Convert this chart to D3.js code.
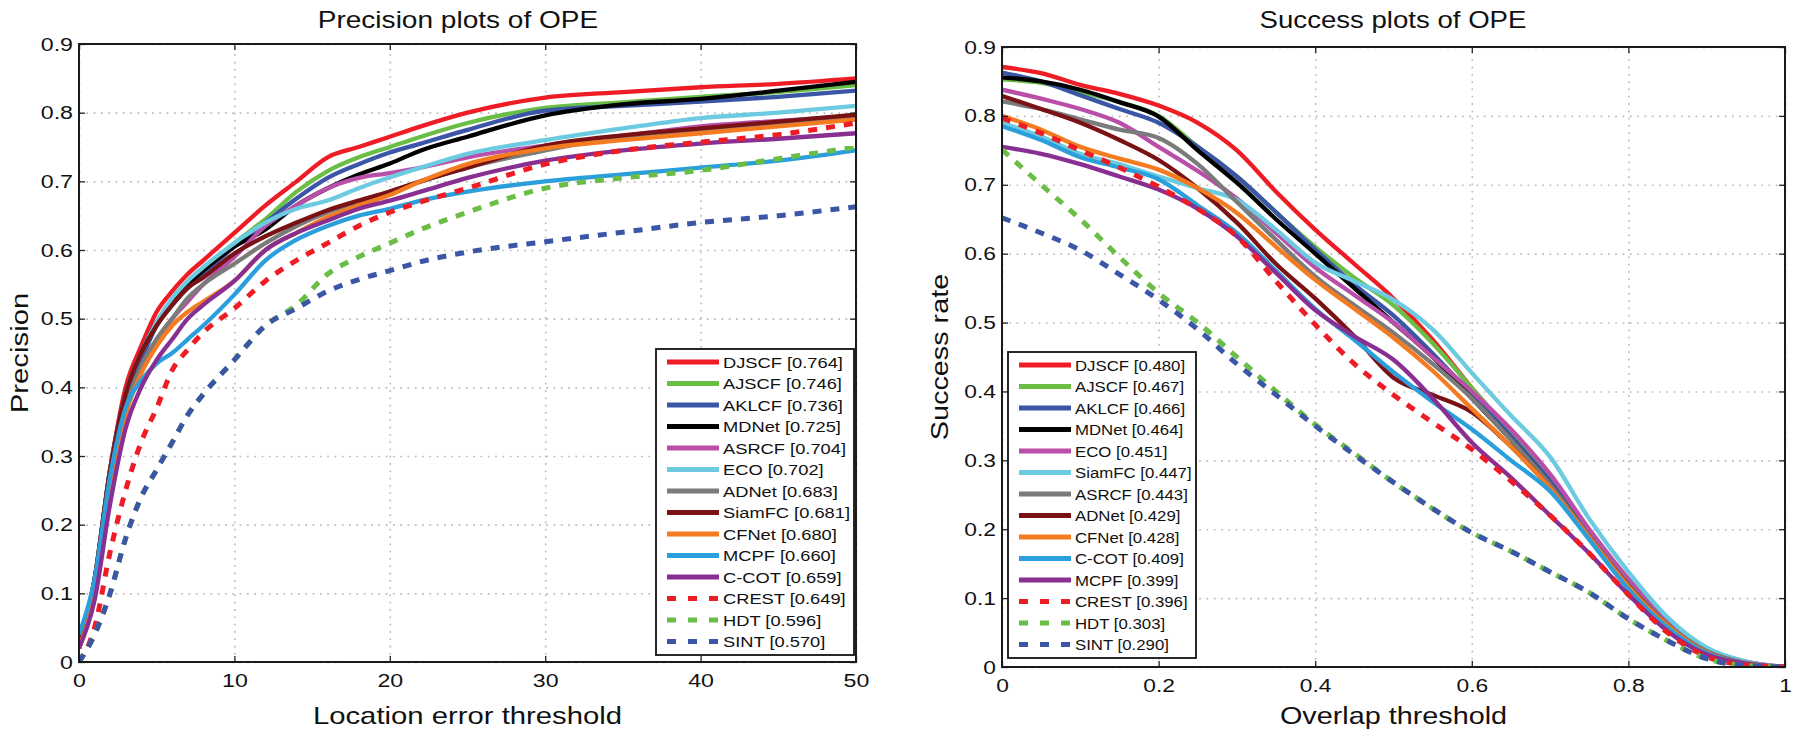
<!DOCTYPE html>
<html><head><meta charset="utf-8">
<script src="https://cdn.jsdelivr.net/npm/d3@7/dist/d3.min.js"></script>
<style>
body{margin:0;background:#fff;}
svg{display:block;}
text{font-family:"Liberation Sans",Arial,Helvetica,sans-serif;fill:#111;}
</style>
</head><body>
<svg id="chart" width="1794" height="735"></svg>
<script>
// ---------------- DATA ----------------
const precTitle = "Precision plots of OPE";
const succTitle = "Success plots of OPE";
const precXLabel = "Location error threshold";
const precYLabel = "Precision";
const succXLabel = "Overlap threshold";
const succYLabel = "Success rate";

const precThresholds = [0,1,2,3,4,5,6,7,8,10,12,14,16,18,20,22,25,30,35,40,45,50];
const precLegend = ["DJSCF [0.764]","AJSCF [0.746]","AKLCF [0.736]","MDNet [0.725]","ASRCF [0.704]","ECO [0.702]","ADNet [0.683]","SiamFC [0.681]","CFNet [0.680]","MCPF [0.660]","C-COT [0.659]","CREST [0.649]","HDT [0.596]","SINT [0.570]"];
const precDJSCF  = [0.03,0.12,0.28,0.40,0.46,0.51,0.54,0.565,0.585,0.625,0.665,0.70,0.735,0.75,0.765,0.78,0.80,0.822,0.83,0.837,0.842,0.85];
const precAJSCF  = [0.02,0.11,0.27,0.38,0.44,0.49,0.52,0.55,0.57,0.61,0.645,0.685,0.715,0.735,0.75,0.765,0.785,0.807,0.815,0.823,0.83,0.84];
const precAKLCF  = [0.02,0.11,0.27,0.38,0.44,0.49,0.52,0.545,0.565,0.605,0.64,0.675,0.705,0.725,0.742,0.755,0.775,0.803,0.81,0.816,0.823,0.832];
const precMDNet  = [0.02,0.12,0.28,0.39,0.45,0.495,0.525,0.55,0.57,0.605,0.63,0.665,0.69,0.71,0.726,0.745,0.765,0.796,0.812,0.82,0.832,0.845];
const precASRCF  = [0.02,0.10,0.25,0.36,0.43,0.47,0.50,0.525,0.55,0.59,0.635,0.665,0.69,0.705,0.712,0.72,0.735,0.752,0.766,0.78,0.788,0.795];
const precECO    = [0.03,0.12,0.28,0.39,0.45,0.495,0.53,0.555,0.575,0.61,0.64,0.66,0.672,0.69,0.706,0.72,0.74,0.76,0.777,0.792,0.80,0.81];
const precADNet  = [0.02,0.11,0.26,0.37,0.43,0.47,0.50,0.53,0.55,0.58,0.61,0.635,0.655,0.67,0.685,0.70,0.72,0.745,0.765,0.775,0.785,0.79];
const precSiamFC = [0.02,0.12,0.28,0.39,0.45,0.49,0.52,0.545,0.56,0.595,0.62,0.64,0.658,0.672,0.685,0.70,0.72,0.752,0.767,0.777,0.787,0.797];
const precCFNet  = [0.02,0.10,0.25,0.36,0.42,0.46,0.49,0.51,0.525,0.555,0.60,0.625,0.648,0.665,0.68,0.70,0.725,0.748,0.76,0.77,0.78,0.79];
const precMCPF   = [0.04,0.12,0.27,0.37,0.41,0.435,0.45,0.47,0.49,0.535,0.585,0.615,0.635,0.65,0.66,0.672,0.685,0.70,0.71,0.72,0.73,0.745];
const precCCOT   = [0.02,0.09,0.23,0.34,0.40,0.44,0.47,0.50,0.52,0.555,0.60,0.625,0.643,0.66,0.672,0.685,0.705,0.73,0.745,0.755,0.762,0.77];
const precCREST  = [0.0,0.05,0.16,0.25,0.32,0.37,0.425,0.455,0.48,0.515,0.555,0.585,0.61,0.635,0.655,0.67,0.69,0.725,0.745,0.757,0.768,0.785];
const precHDT    = [0.0,0.04,0.10,0.18,0.24,0.28,0.32,0.36,0.39,0.44,0.49,0.52,0.565,0.59,0.61,0.63,0.655,0.69,0.705,0.716,0.733,0.75];
const precSINT   = [0.0,0.04,0.10,0.18,0.24,0.28,0.32,0.36,0.39,0.44,0.49,0.515,0.54,0.557,0.57,0.583,0.597,0.612,0.626,0.64,0.65,0.663];

const succThresholds = [0,0.05,0.1,0.15,0.2,0.25,0.3,0.35,0.4,0.45,0.5,0.55,0.6,0.65,0.7,0.75,0.8,0.85,0.9,0.95,1.0];
const succLegend = ["DJSCF [0.480]","AJSCF [0.467]","AKLCF [0.466]","MDNet [0.464]","ECO [0.451]","SiamFC [0.447]","ASRCF [0.443]","ADNet [0.429]","CFNet [0.428]","C-COT [0.409]","MCPF [0.399]","CREST [0.396]","HDT [0.303]","SINT [0.290]"];
const succDJSCF  = [0.871,0.862,0.845,0.832,0.815,0.79,0.75,0.69,0.635,0.585,0.535,0.475,0.405,0.34,0.275,0.195,0.125,0.065,0.025,0.007,0];
const succAJSCF  = [0.853,0.848,0.835,0.82,0.80,0.755,0.712,0.66,0.61,0.565,0.525,0.47,0.405,0.34,0.275,0.195,0.125,0.064,0.024,0.006,0];
const succAKLCF  = [0.863,0.85,0.83,0.81,0.79,0.755,0.712,0.66,0.606,0.555,0.51,0.455,0.395,0.335,0.27,0.195,0.123,0.063,0.023,0.006,0];
const succMDNet  = [0.856,0.85,0.838,0.82,0.799,0.75,0.703,0.65,0.60,0.55,0.50,0.45,0.39,0.33,0.265,0.19,0.12,0.06,0.022,0.005,0];
const succECO    = [0.838,0.825,0.81,0.79,0.755,0.72,0.68,0.63,0.58,0.54,0.50,0.45,0.40,0.345,0.28,0.2,0.128,0.066,0.026,0.008,0];
const succSiamFC = [0.79,0.77,0.745,0.73,0.712,0.695,0.678,0.635,0.587,0.56,0.533,0.49,0.427,0.365,0.305,0.215,0.138,0.072,0.028,0.008,0];
const succASRCF  = [0.821,0.81,0.795,0.78,0.768,0.73,0.675,0.62,0.567,0.525,0.485,0.44,0.39,0.33,0.265,0.19,0.12,0.062,0.023,0.006,0];
const succADNet  = [0.829,0.81,0.79,0.765,0.736,0.695,0.645,0.585,0.535,0.48,0.42,0.395,0.37,0.32,0.26,0.188,0.118,0.06,0.021,0.005,0];
const succCFNet  = [0.80,0.78,0.755,0.738,0.722,0.695,0.659,0.61,0.562,0.52,0.478,0.43,0.375,0.32,0.26,0.188,0.117,0.06,0.021,0.005,0];
const succCCOT   = [0.785,0.765,0.74,0.725,0.708,0.67,0.63,0.575,0.52,0.475,0.428,0.385,0.345,0.30,0.255,0.185,0.113,0.057,0.02,0.005,0];
const succMCPF   = [0.755,0.745,0.73,0.712,0.693,0.665,0.625,0.572,0.518,0.48,0.446,0.39,0.326,0.275,0.22,0.165,0.105,0.052,0.018,0.005,0];
const succCREST  = [0.797,0.775,0.75,0.725,0.697,0.665,0.625,0.56,0.497,0.44,0.395,0.355,0.316,0.27,0.22,0.165,0.105,0.05,0.015,0.003,0];
const succHDT    = [0.751,0.70,0.65,0.595,0.543,0.50,0.45,0.40,0.352,0.31,0.268,0.23,0.195,0.168,0.138,0.108,0.07,0.038,0.012,0.002,0];
const succSINT   = [0.652,0.63,0.605,0.57,0.533,0.49,0.44,0.395,0.35,0.308,0.268,0.23,0.195,0.168,0.138,0.108,0.07,0.038,0.012,0.002,0];

const precXTicks = [0,10,20,30,40,50];
const succXTicks = [0,0.2,0.4,0.6,0.8,1];
const yTicks = [0,0.1,0.2,0.3,0.4,0.5,0.6,0.7,0.8,0.9];

// ---------------- STYLE ----------------
const rankColors = ["#ee1c25","#6abd45","#3b56a6","#000000","#b94fa8","#6ccbe0","#7b7b7b","#7a1215","#f47b20","#2a9fdb","#892f92","#ee1c25","#6abd45","#3b56a6"];
const rankDashed = [false,false,false,false,false,false,false,false,false,false,false,true,true,true];

const precSeries = [precDJSCF,precAJSCF,precAKLCF,precMDNet,precASRCF,precECO,precADNet,precSiamFC,precCFNet,precMCPF,precCCOT,precCREST,precHDT,precSINT];
const succSeries = [succDJSCF,succAJSCF,succAKLCF,succMDNet,succECO,succSiamFC,succASRCF,succADNet,succCFNet,succCCOT,succMCPF,succCREST,succHDT,succSINT];

const svg = d3.select("#chart");

function stxt(g, x, y, s, size, anchor, sx, rot) {
  return g.append("text")
    .attr("transform", `translate(${x},${y})` + (rot ? ` rotate(${rot})` : "") + ` scale(${sx},1)`)
    .attr("text-anchor", anchor || "start")
    .style("font-size", size + "px")
    .text(s);
}

function panel(cfg) {
  const SX = cfg.sx;
  const g = svg.append("g");
  const x = d3.scaleLinear().domain(cfg.xDomain).range([cfg.left, cfg.right]);
  const y = d3.scaleLinear().domain([0, 0.9]).range([cfg.bottom, cfg.top]);
  const W = cfg.right - cfg.left, H = cfg.bottom - cfg.top;

  // grid
  const grid = g.append("g").attr("class", "grid");
  grid.append("g").attr("transform", `translate(0,${cfg.bottom})`)
    .call(d3.axisBottom(x).tickValues(cfg.xTicks).tickSize(-H).tickFormat(""));
  grid.append("g").attr("transform", `translate(${cfg.left},0)`)
    .call(d3.axisLeft(y).tickValues(yTicks).tickSize(-W).tickFormat(""));
  grid.selectAll(".domain").remove();
  grid.selectAll("line").attr("stroke", "#bdbdbd").attr("stroke-width", 1.6).attr("stroke-dasharray", "1.8,5.5");

  // clip
  const cid = "clip" + cfg.id;
  svg.append("defs").append("clipPath").attr("id", cid)
    .append("rect").attr("x", cfg.left).attr("y", cfg.top).attr("width", W).attr("height", H);

  const line = d3.line().x(d => x(d[0])).y(d => y(d[1])).curve(d3.curveMonotoneX);
  const lines = g.append("g").attr("clip-path", `url(#${cid})`);
  cfg.series.forEach((vals, i) => {
    const pts = cfg.thresholds.map((t, k) => [t, vals[k]]);
    lines.append("path").datum(pts)
      .attr("d", line)
      .attr("fill", "none")
      .attr("stroke", rankColors[i])
      .attr("stroke-width", rankDashed[i] ? 5 : 4.3)
      .attr("stroke-linejoin", "round")
      .attr("stroke-dasharray", rankDashed[i] ? "9,9" : null);
  });

  // axes with inward ticks
  const ax = g.append("g");
  ax.append("g").attr("transform", `translate(0,${cfg.bottom})`)
    .call(d3.axisBottom(x).tickValues(cfg.xTicks).tickSizeInner(-6).tickSizeOuter(0).tickPadding(12).tickFormat(cfg.xFmt));
  ax.append("g").attr("transform", `translate(${cfg.left},0)`)
    .call(d3.axisLeft(y).tickValues(yTicks).tickSizeInner(-6).tickSizeOuter(0).tickPadding(6 / SX).tickFormat(d3.format("~g")));
  ax.append("g").attr("transform", `translate(0,${cfg.top})`)
    .call(d3.axisTop(x).tickValues(cfg.xTicks).tickSizeInner(-6).tickSizeOuter(0).tickFormat(""));
  ax.append("g").attr("transform", `translate(${cfg.right},0)`)
    .call(d3.axisRight(y).tickValues(yTicks).tickSizeInner(-6).tickSizeOuter(0).tickFormat(""));
  ax.selectAll(".domain").remove();
  ax.selectAll(".tick line").attr("stroke", "#222").attr("stroke-width", 1.3);
  ax.selectAll(".tick text").style("font-size", "19px").attr("fill", "#111")
    .attr("font-family", "Liberation Sans, Arial, sans-serif")
    .attr("transform", `scale(${SX},1)`);
  g.append("rect").attr("x", cfg.left).attr("y", cfg.top).attr("width", W).attr("height", H)
    .attr("fill", "none").attr("stroke", "#1a1a1a").attr("stroke-width", 2);

  // labels
  stxt(g, cfg.titleX, 28, cfg.title, 23, "middle", SX);
  stxt(g, (cfg.left + cfg.right) / 2, 724, cfg.xLabel, 24, "middle", SX);
  stxt(g, cfg.yLabelX, (cfg.top + cfg.bottom) / 2, cfg.yLabel, 24, "middle", SX, -90);

  // legend
  const L = cfg.legend;
  const lg = g.append("g");
  lg.append("rect").attr("x", L.x).attr("y", L.y).attr("width", L.w).attr("height", L.h)
    .attr("fill", "#fff").attr("stroke", "#111").attr("stroke-width", 1.8);
  cfg.names.forEach((nm, i) => {
    const cy = L.y + 13 + i * 21.5;
    lg.append("line").attr("x1", L.x + 11).attr("x2", L.x + 63).attr("y1", cy).attr("y2", cy)
      .attr("stroke", rankColors[i]).attr("stroke-width", 5)
      .attr("stroke-dasharray", rankDashed[i] ? "9,12" : null);
    stxt(lg, L.x + 67, cy + 5.5, nm, 15, "start", L.sx);
  });
}

panel({
  id: "p", left: 79, right: 856, top: 44, bottom: 662, sx: 1.22,
  xDomain: [0, 50], xTicks: precXTicks, xFmt: d3.format("d"),
  thresholds: precThresholds, series: precSeries, names: precLegend,
  title: precTitle, titleX: 458, xLabel: precXLabel, yLabel: precYLabel, yLabelX: 28,
  legend: { x: 656, y: 349, w: 198, h: 306, sx: 1.22 }
});
panel({
  id: "s", left: 1002, right: 1785, top: 47, bottom: 667, sx: 1.2,
  xDomain: [0, 1], xTicks: succXTicks, xFmt: d3.format("~g"),
  thresholds: succThresholds, series: succSeries, names: succLegend,
  title: succTitle, titleX: 1393, xLabel: succXLabel, yLabel: succYLabel, yLabelX: 948,
  legend: { x: 1008, y: 352, w: 188, h: 306, sx: 1.12 }
});
</script>
</body></html>
